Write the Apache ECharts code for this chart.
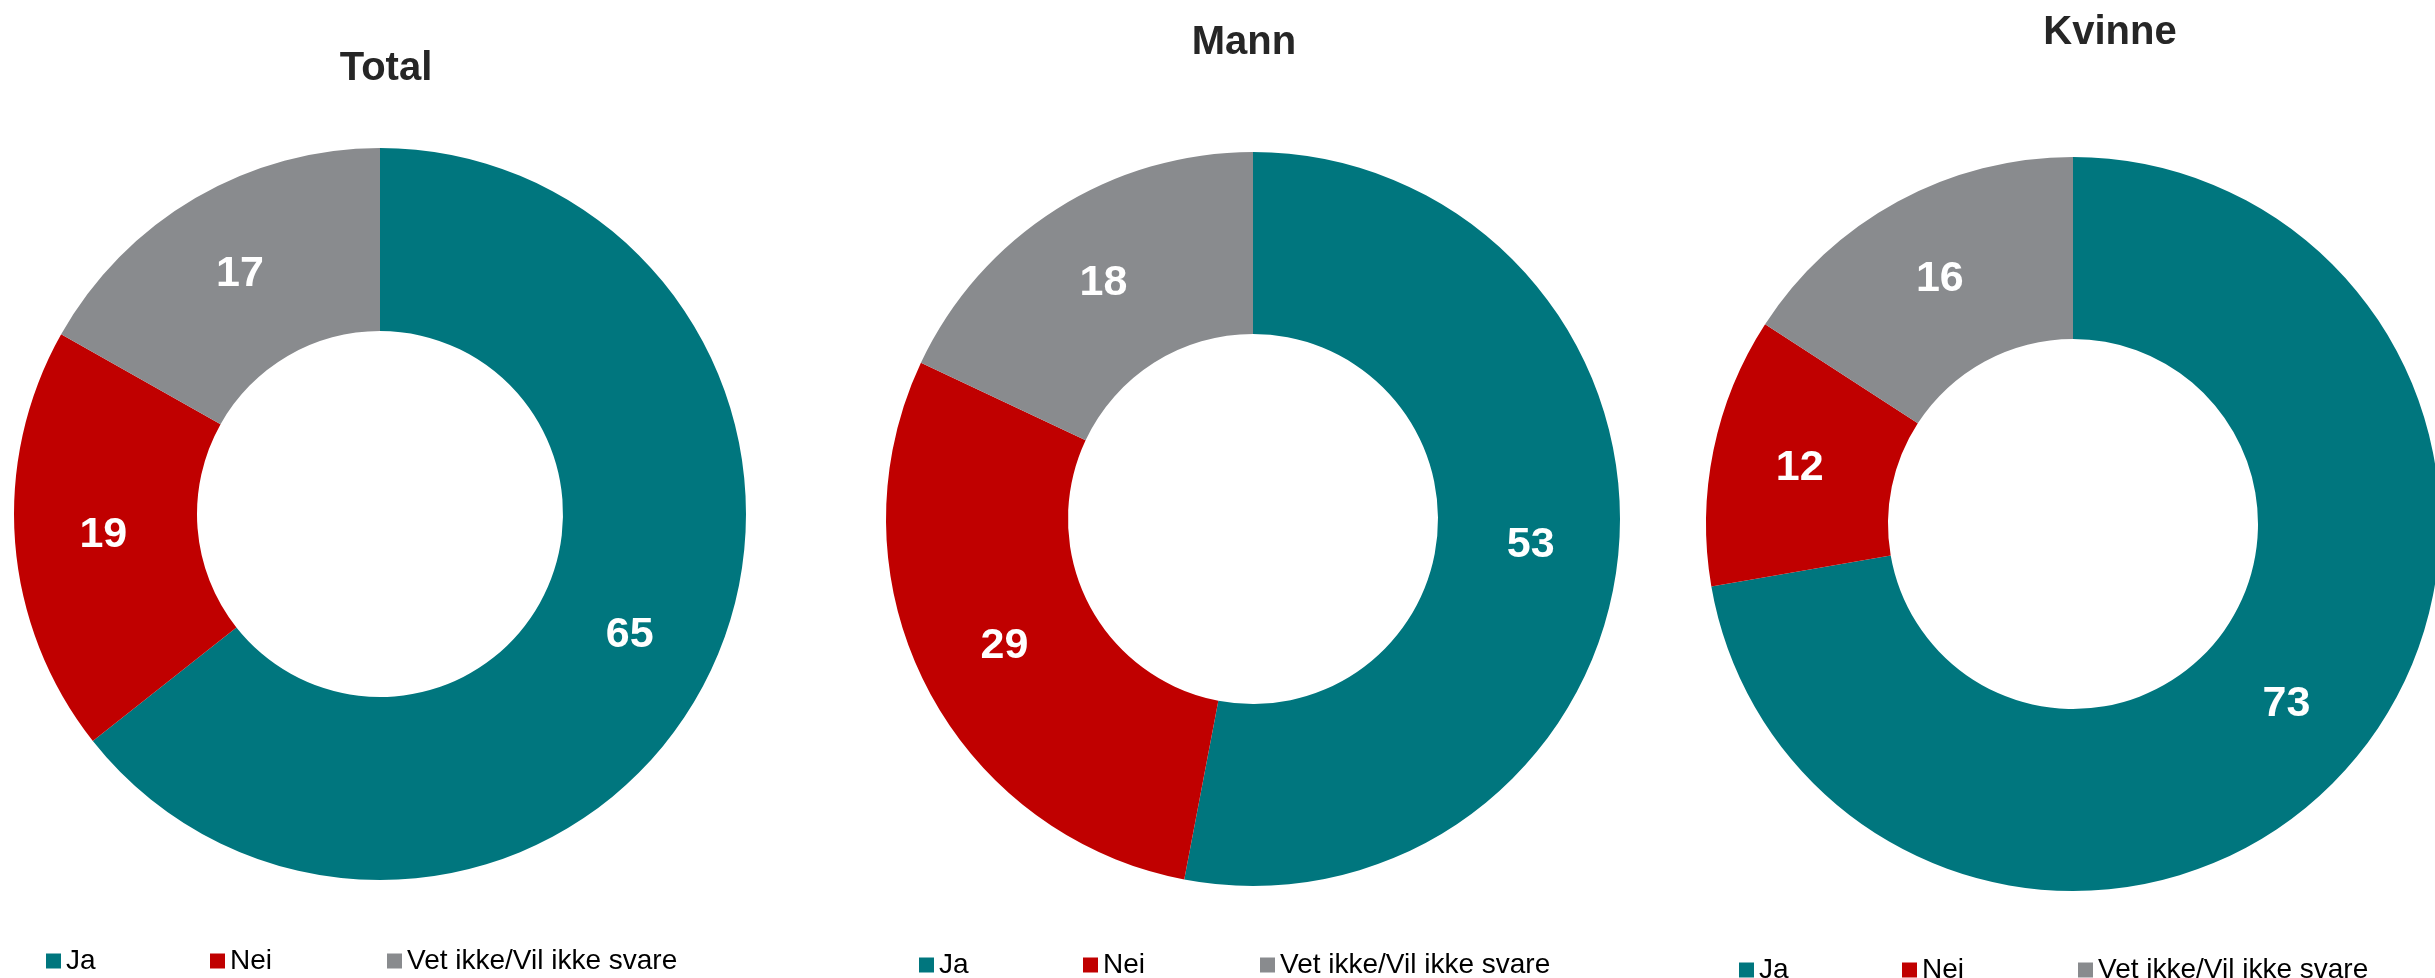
<!DOCTYPE html>
<html>
<head>
<meta charset="utf-8">
<script src="https://cdn.jsdelivr.net/npm/echarts@6/dist/echarts.min.js"></script>
<style>
html,body{margin:0;padding:0;background:#fff;}
#chart{width:2435px;height:978px;}
</style>
</head>
<body>
<div id="chart"></div>
<script>
// ---- data ----
const categories = ['Ja', 'Nei', 'Vet ikke/Vil ikke svare'];
const groups = ['Total', 'Mann', 'Kvinne'];
const totalValues = [65, 19, 17];
const mannValues = [53, 29, 18];
const kvinneValues = [73, 12, 16];
const sliceColors = ['#00767E', '#C00000', '#898B8E'];

// ---- layout ----
const FONT = '"Liberation Sans", Arial, Helvetica, sans-serif';
const layout = [
  { center: [380, 514], radius: [183, 366], title: [381, 66], legendY: 963, legendX: [46, 210, 387] },
  { center: [1253, 519], radius: [185, 367], title: [1239, 40], legendY: 967, legendX: [919, 1083, 1260] },
  { center: [2073, 524], radius: [185, 367], title: [2105, 30], legendY: 972, legendX: [1739, 1902, 2078] }
];
const valueSets = [totalValues, mannValues, kvinneValues];

const titles = [], legends = [], series = [];
groups.forEach((g, gi) => {
  const L = layout[gi];
  titles.push({
    text: g,
    left: L.title[0],
    top: L.title[1] - 22,
    textAlign: 'center',
    textStyle: { fontFamily: FONT, fontWeight: 'bold', fontSize: 40, color: '#262626' }
  });
  categories.forEach((c, ci) => {
    legends.push({
      data: [c],
      left: L.legendX[ci],
      top: L.legendY - 16,
      icon: 'rect',
      itemWidth: 15,
      itemHeight: 15,
      itemGap: 0,
      padding: 0,
      selectedMode: false,
      textStyle: { fontFamily: FONT, fontSize: 28, color: '#000' }
    });
  });
  series.push({
    type: 'pie',
    name: g,
    center: L.center,
    radius: L.radius,
    startAngle: 90,
    clockwise: true,
    animation: false,
    avoidLabelOverlap: false,
    itemStyle: { borderWidth: 0 },
    label: {
      show: true,
      position: 'inside',
      formatter: '{c}',
      color: '#fff',
      fontFamily: FONT,
      fontWeight: 'bold',
      fontSize: 43
    },
    labelLine: { show: false },
    emphasis: { disabled: true },
    data: categories.map((c, ci) => ({ name: c, value: valueSets[gi][ci], itemStyle: { color: sliceColors[ci] } }))
  });
});

const chart = echarts.init(document.getElementById('chart'), null, { renderer: 'canvas' });
chart.setOption({
  backgroundColor: '#fff',
  animation: false,
  color: sliceColors,
  title: titles,
  legend: legends,
  series: series
});
</script>
</body>
</html>
